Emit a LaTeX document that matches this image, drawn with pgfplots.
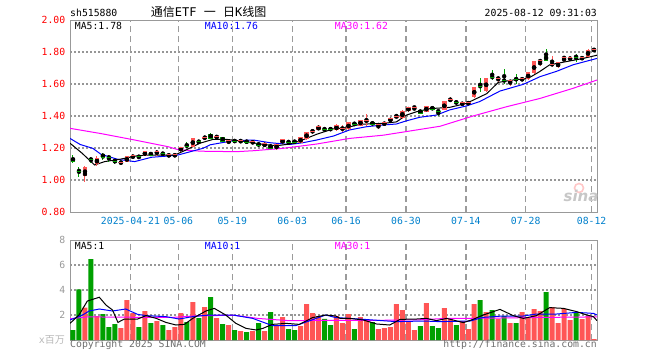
\documentclass[border=0pt]{standalone}
\usepackage{pgfplots}
\pgfplotsset{compat=1.18}
\usepackage{pgfplotstable}
\usepackage{fontspec}
\setmainfont{DejaVu Sans Mono}
\setmonofont{DejaVu Sans Mono}
\newfontfamily\cjk{Noto Sans CJK SC}
\newfontfamily\sansb{DejaVu Sans}
\definecolor{upred}{RGB}{255,85,85}
\definecolor{dngreen}{RGB}{0,160,0}
\definecolor{gridgray}{RGB}{155,155,155}
\definecolor{dotgray}{RGB}{150,150,150}
\definecolor{framegray}{RGB}{153,153,153}
\definecolor{ticklblue}{RGB}{0,128,204}
\definecolor{maviolet}{RGB}{255,0,255}
\definecolor{mablue}{RGB}{0,0,255}
\definecolor{txtgray}{RGB}{110,110,110}
\newcommand{\mono}{\fontsize{9.8}{10}\selectfont}

% k open close high low
\pgfplotstableread{
k o c h l
2 1.027 1.079 1.085 0.990
4 1.098 1.136 1.150 1.090
8 1.106 1.112 1.115 1.102
9 1.114 1.144 1.146 1.112
10 1.136 1.156 1.158 1.134
12 1.153 1.177 1.180 1.150
14 1.162 1.180 1.190 1.152
16 1.148 1.160 1.165 1.143
17 1.150 1.158 1.165 1.145
18 1.180 1.206 1.208 1.178
20 1.208 1.260 1.262 1.205
22 1.262 1.266 1.272 1.258
24 1.268 1.272 1.282 1.254
26 1.233 1.250 1.252 1.225
28 1.242 1.246 1.252 1.232
30 1.232 1.240 1.242 1.228
32 1.210 1.230 1.235 1.205
34 1.204 1.220 1.222 1.190
35 1.230 1.254 1.256 1.228
38 1.233 1.264 1.267 1.230
39 1.254 1.300 1.302 1.252
40 1.302 1.306 1.320 1.290
41 1.313 1.333 1.345 1.310
44 1.312 1.340 1.350 1.305
45 1.318 1.322 1.345 1.300
46 1.317 1.358 1.360 1.315
48 1.338 1.375 1.378 1.336
49 1.368 1.372 1.410 1.338
51 1.342 1.346 1.350 1.320
52 1.344 1.360 1.362 1.342
53 1.369 1.383 1.385 1.367
54 1.394 1.398 1.415 1.385
55 1.385 1.427 1.440 1.383
56 1.430 1.456 1.458 1.428
57 1.452 1.456 1.458 1.435
59 1.427 1.458 1.462 1.425
62 1.438 1.490 1.492 1.436
63 1.498 1.502 1.520 1.485
65 1.470 1.483 1.485 1.468
66 1.476 1.486 1.490 1.470
67 1.517 1.579 1.582 1.515
69 1.556 1.635 1.638 1.552
71 1.633 1.637 1.648 1.612
73 1.604 1.625 1.627 1.590
75 1.626 1.632 1.636 1.624
76 1.630 1.670 1.672 1.628
77 1.667 1.738 1.742 1.665
78 1.742 1.746 1.748 1.712
80 1.720 1.725 1.775 1.704
81 1.704 1.735 1.738 1.700
82 1.762 1.765 1.767 1.738
83 1.750 1.767 1.770 1.748
85 1.760 1.764 1.770 1.752
86 1.770 1.810 1.818 1.768
87 1.810 1.813 1.820 1.808
}\upc

\pgfplotstableread{
k o c h l
0 1.139 1.113 1.156 1.104
1 1.060 1.054 1.083 1.020
3 1.131 1.127 1.146 1.104
5 1.163 1.142 1.169 1.125
6 1.144 1.140 1.154 1.115
7 1.122 1.118 1.133 1.100
11 1.148 1.144 1.152 1.135
13 1.169 1.156 1.172 1.153
15 1.167 1.163 1.177 1.150
19 1.216 1.212 1.235 1.200
21 1.242 1.238 1.252 1.222
23 1.288 1.260 1.292 1.255
25 1.267 1.240 1.270 1.238
27 1.246 1.242 1.252 1.234
29 1.246 1.233 1.248 1.230
31 1.233 1.213 1.235 1.208
33 1.220 1.200 1.222 1.196
36 1.240 1.236 1.245 1.225
37 1.242 1.237 1.246 1.232
42 1.320 1.317 1.330 1.300
43 1.320 1.316 1.326 1.310
47 1.354 1.350 1.362 1.337
50 1.364 1.344 1.366 1.342
58 1.438 1.417 1.440 1.415
60 1.458 1.438 1.462 1.436
61 1.432 1.428 1.438 1.400
64 1.488 1.484 1.498 1.470
68 1.590 1.582 1.640 1.550
70 1.646 1.640 1.690 1.625
72 1.624 1.620 1.695 1.602
74 1.632 1.628 1.660 1.600
79 1.775 1.750 1.820 1.748
84 1.772 1.768 1.790 1.735
}\dnc

\pgfplotstableread{
k v
2 2.60
4 1.92
8 0.96
9 3.20
10 2.16
12 2.32
14 1.52
16 0.80
17 1.04
18 2.16
20 3.04
22 2.64
24 1.76
26 1.20
28 0.72
30 0.72
32 0.72
34 1.20
35 1.84
38 1.12
39 2.88
40 2.16
41 1.92
44 1.92
45 1.36
46 2.08
48 1.84
49 1.60
51 0.88
52 0.96
53 1.04
54 2.88
55 2.40
56 1.44
57 0.80
59 2.96
62 2.56
63 1.76
65 1.52
66 0.88
67 2.88
69 2.24
71 1.68
73 1.36
75 2.24
76 1.76
77 2.48
78 2.32
80 2.64
81 1.36
82 2.48
83 1.60
85 1.68
86 1.92
87 0.08
}\upv

\pgfplotstableread{
k v
0 0.80
1 4.05
3 6.48
5 2.08
6 1.04
7 1.28
11 1.04
13 1.36
15 1.20
19 1.44
21 1.76
23 3.44
25 1.28
27 0.80
29 0.64
31 1.36
33 2.24
36 0.88
37 0.80
42 1.70
43 1.20
47 0.88
50 1.44
58 1.12
60 1.12
61 0.96
64 1.20
68 3.20
70 2.40
72 1.92
74 1.36
79 3.84
84 2.24
}\dnv

\pgfplotsset{
  kbase/.style={
    scale only axis, anchor=south west, width=527pt,
    xmin=-0.5, xmax=87.5,
    axis line style={draw=framegray, line width=1pt},
    tick style={draw=none},
    xtick={9.6,17.6,26.6,36.6,45.6,55.6,65.6,75.6,86.6},
    yticklabel style={font=\mono, inner sep=0pt, xshift=-4.5pt},
    xticklabel style={font=\mono, inner sep=0pt, yshift=-5pt},
  },
  vgrid/.style={forget plot, color=gridgray, line width=1.3pt, dash pattern=on 6pt off 4pt},
  hgrid/.style={forget plot, color=dotgray, line width=1.3pt, dash pattern=on 2pt off 2pt},
  wick/.style={only marks, mark=none, forget plot, error bars/.cd, y dir=both, y explicit, error mark=none, error bar style={draw=#1, line width=1pt}},
  body/.style={only marks, mark=none, forget plot, error bars/.cd, y dir=both, y explicit, error mark=none, error bar style={draw=#1, line width=4.5pt}},
}

\begin{document}
\begin{tikzpicture}[x=1pt,y=1pt]
\useasboundingbox (0,0) rectangle (660,360);

% ---------- price panel ----------
\begin{axis}[kbase, at={(70pt,148pt)}, height=192pt,
  ymin=0.8, ymax=2.0,
  xticklabels={2025-04-21,05-06,05-19,06-03,06-16,06-30,07-14,07-28,08-12},
  xticklabel style={text=ticklblue},
  ytick={0.8,1.0,1.2,1.4,1.6,1.8,2.0},
  yticklabels={0.80,1.00,1.20,1.40,1.60,1.80,2.00},
  yticklabel style={text=red},
]
% grid
\addplot[hgrid] coordinates {(-0.5,1.0) (87.5,1.0)};
\addplot[hgrid] coordinates {(-0.5,1.2) (87.5,1.2)};
\addplot[hgrid] coordinates {(-0.5,1.4) (87.5,1.4)};
\addplot[hgrid] coordinates {(-0.5,1.6) (87.5,1.6)};
\addplot[hgrid] coordinates {(-0.5,1.8) (87.5,1.8)};
\addplot[vgrid] coordinates {(9.6,0.8) (9.6,2.0)};
\addplot[vgrid] coordinates {(17.6,0.8) (17.6,2.0)};
\addplot[vgrid] coordinates {(26.6,0.8) (26.6,2.0)};
\addplot[vgrid] coordinates {(36.6,0.8) (36.6,2.0)};
\addplot[vgrid] coordinates {(45.6,0.8) (45.6,2.0)};
\addplot[vgrid] coordinates {(55.6,0.8) (55.6,2.0)};
\addplot[vgrid] coordinates {(65.6,0.8) (65.6,2.0)};
\addplot[vgrid] coordinates {(75.6,0.8) (75.6,2.0)};
\addplot[vgrid] coordinates {(86.6,0.8) (86.6,2.0)};
% MA30
\addplot[maviolet, line width=1pt] coordinates {
(-0.5,1.323) (4.7,1.290) (10.3,1.250) (15.9,1.208) (17.5,1.190) (21.4,1.180)
(27.3,1.177) (30.1,1.183) (35.1,1.198) (40.7,1.225) (46.2,1.260) (51.8,1.280)
(57.4,1.313) (61.3,1.336) (66.8,1.400) (72.4,1.458) (78.0,1.510) (83.5,1.573) (87.5,1.625)};
% MA10
\addplot[mablue, line width=1pt] coordinates {
(-0.5,1.260) (1.2,1.222) (3.3,1.198) (4.7,1.160) (7.5,1.129) (10.3,1.115) (13.1,1.142)
(15.9,1.150) (17.5,1.156) (19.2,1.173) (21.7,1.198) (22.9,1.220) (26.8,1.246) (30.1,1.250)
(32.9,1.233) (36.2,1.222) (38.4,1.233) (40.7,1.250) (43.5,1.275) (46.2,1.313) (49.0,1.333)
(51.8,1.344) (54.0,1.350) (55.7,1.370) (57.9,1.392) (60.7,1.406) (62.9,1.438) (65.7,1.463)
(67.9,1.490) (71.3,1.556) (75.2,1.598) (78.0,1.646) (80.8,1.680) (83.5,1.720) (87.5,1.760)};
% MA5
\addplot[black, line width=1pt] coordinates {
(-0.5,1.230) (1.5,1.168) (3.6,1.094) (5.3,1.115) (8.0,1.131) (10.5,1.150) (12.3,1.156)
(17.0,1.156) (18.9,1.188) (21.2,1.230) (23.4,1.254) (25.6,1.254) (29.0,1.240) (31.2,1.225)
(34.0,1.214) (36.2,1.225) (37.9,1.244) (40.7,1.286) (43.5,1.320) (45.7,1.327) (47.9,1.348)
(51.8,1.354) (54.0,1.363) (55.7,1.406) (57.4,1.427) (59.6,1.446) (62.9,1.454) (65.7,1.479)
(69.1,1.540) (71.0,1.610) (73.5,1.625) (76.0,1.635) (77.9,1.677) (79.6,1.720) (82.4,1.740)
(85.2,1.760) (87.5,1.780)};
% candles
\addplot[wick=upred] table[x=k, y expr={(\thisrow{h}+\thisrow{l})/2}, y error expr={(\thisrow{h}-\thisrow{l})/2}] {\upc};
\addplot[body=upred] table[x=k, y expr={(\thisrow{o}+\thisrow{c})/2}, y error expr={abs(\thisrow{c}-\thisrow{o})/2}] {\upc};
\addplot[only marks, mark=-, mark size=2.25pt, mark options={draw=upred, line width=1pt}, forget plot] table[x=k, y=c] {\upc};
\addplot[wick=dngreen] table[x=k, y expr={(\thisrow{h}+\thisrow{l})/2}, y error expr={(\thisrow{h}-\thisrow{l})/2}] {\dnc};
\addplot[body=dngreen] table[x=k, y expr={(\thisrow{o}+\thisrow{c})/2}, y error expr={abs(\thisrow{c}-\thisrow{o})/2}] {\dnc};
\addplot[only marks, mark=-, mark size=2.25pt, mark options={draw=dngreen, line width=1pt}, forget plot] table[x=k, y=c] {\dnc};
\end{axis}

% ---------- volume panel ----------
\begin{axis}[kbase, at={(70pt,20pt)}, height=100pt,
  ymin=0, ymax=8,
  xticklabels={},
  ytick={2,4,6,8}, yticklabels={2,4,6,8},
  yticklabel style={text=framegray},
]
\addplot[hgrid] coordinates {(-0.5,2) (87.5,2)};
\addplot[hgrid] coordinates {(-0.5,4) (87.5,4)};
\addplot[hgrid] coordinates {(-0.5,6) (87.5,6)};
\addplot[vgrid] coordinates {(9.6,0) (9.6,8)};
\addplot[vgrid] coordinates {(17.6,0) (17.6,8)};
\addplot[vgrid] coordinates {(26.6,0) (26.6,8)};
\addplot[vgrid] coordinates {(36.6,0) (36.6,8)};
\addplot[vgrid] coordinates {(45.6,0) (45.6,8)};
\addplot[vgrid] coordinates {(55.6,0) (55.6,8)};
\addplot[vgrid] coordinates {(65.6,0) (65.6,8)};
\addplot[vgrid] coordinates {(75.6,0) (75.6,8)};
\addplot[vgrid] coordinates {(86.6,0) (86.6,8)};
\addplot[ybar, bar width=5pt, bar shift=0pt, fill=upred, draw=none] table[x=k, y=v] {\upv};
\addplot[ybar, bar width=5pt, bar shift=0pt, fill=dngreen, draw=none] table[x=k, y=v] {\dnv};
% vol MA30
\addplot[maviolet, line width=1pt] coordinates {
(-0.5,1.70) (2.5,1.85) (10,1.82) (17,1.82) (21,1.95) (27,1.97) (31,1.72) (36,1.55)
(44,1.58) (52,1.58) (58,1.62) (62,1.72) (70,1.75) (77,1.80) (87.5,1.85)};
% vol MA10
\addplot[mablue, line width=1pt] coordinates {
(-0.5,1.60) (1.6,2.00) (2.7,2.32) (4.4,2.48) (6.6,2.32) (8.8,2.48) (10.8,2.05) (12.2,1.95)
(15.5,1.87) (17.7,1.68) (20.0,1.87) (22.8,2.00) (26.7,2.00) (30.0,1.73) (33.3,1.15)
(37.2,1.15) (39.4,1.52) (42.2,2.00) (43.9,1.79) (46.2,1.73) (50.1,1.60) (54.0,1.47)
(58.5,1.52) (61.3,1.47) (66.3,1.52) (68.5,1.81) (71.8,1.92) (75.2,1.92) (77.4,2.08)
(80.8,2.08) (84.1,2.21) (86.9,2.13) (87.5,2.00)};
% vol MA5
\addplot[black, line width=1pt] coordinates {
(-0.5,1.33) (1.0,2.00) (2.4,3.12) (4.4,3.42) (5.5,2.80) (6.6,2.40) (7.5,1.41) (8.6,1.68)
(10.8,1.68) (12.2,1.95) (13.9,1.73) (15.5,1.41) (17.2,1.20) (18.6,1.25) (20.0,1.73)
(22.2,2.32) (23.6,2.53) (25.5,2.00) (27.2,1.33) (28.9,0.93) (30.6,0.80) (31.7,0.93)
(33.3,1.25) (35.6,1.33) (37.8,1.25) (40.0,1.79) (42.2,2.00) (43.9,1.92) (44.6,1.73)
(46.2,1.73) (48.5,1.60) (50.7,1.28) (52.9,1.20) (54.6,1.65) (57.4,1.68) (59.0,1.73)
(60.7,1.55) (62.4,1.73) (65.2,1.39) (66.8,1.65) (68.5,2.00) (71.3,2.45) (73.5,1.95)
(75.2,1.73) (77.4,1.95) (79.6,2.59) (81.9,2.53) (84.1,2.27) (85.8,2.00) (86.9,1.87) (87.5,1.55)};
\end{axis}

% ---------- texts ----------
\node[anchor=base west, inner sep=0pt, font=\mono] at (70,343.5) {sh515880};
\node[anchor=base west, inner sep=0pt] at (150.7,343.5)
  {\fontsize{12}{12}\selectfont{\cjk 通信}ETF {\cjk 一} {\cjk 日}K{\cjk 线图}};
\node[anchor=base east, inner sep=0pt, font=\mono] at (597,344) {2025-08-12 09:31:03};

\node[anchor=base west, inner sep=0pt, font=\mono, text=black] at (74.7,330.5) {MA5:1.78};
\node[anchor=base west, inner sep=0pt, font=\mono, text=mablue] at (204.7,330.5) {MA10:1.76};
\node[anchor=base west, inner sep=0pt, font=\mono, text=maviolet] at (334.7,330.5) {MA30:1.62};

\node[anchor=base west, inner sep=0pt, font=\mono, text=black] at (74.7,110.5) {MA5:1};
\node[anchor=base west, inner sep=0pt, font=\mono, text=mablue] at (204.7,110.5) {MA10:1};
\node[anchor=base west, inner sep=0pt, font=\mono, text=maviolet] at (334.7,110.5) {MA30:1};

\node[anchor=base east, inner sep=0pt, text=black!28] at (65,16.5)
  {\fontsize{10}{10}\selectfont x{\cjk 百万}};
\node[anchor=base west, inner sep=0pt, font=\mono, text=txtgray] at (70,12.5) {Copyright 2025 SINA.COM};
\node[anchor=base east, inner sep=0pt, font=\mono, text=txtgray] at (597,12.5) {http://finance.sina.com.cn};

% sina watermark
\draw[red!22, line width=1.6pt] (579,172) circle (4.5);
\node[anchor=base, inner sep=0pt, text=black!22, font=\sansb\bfseries\itshape\fontsize{15}{15}\selectfont] at (581,159) {sina};
\end{tikzpicture}
\end{document}
